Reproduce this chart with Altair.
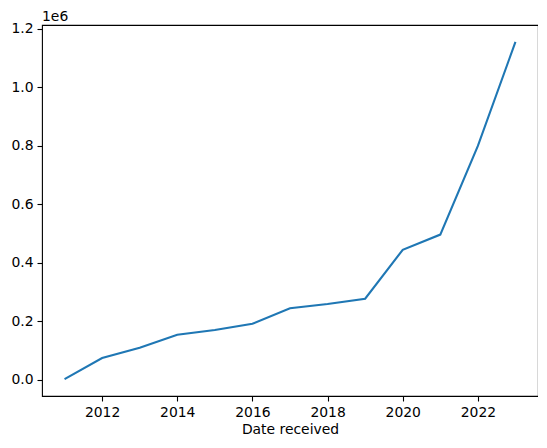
import altair as alt
import pandas as pd

years = [2011, 2012, 2013, 2014, 2015, 2016, 2017, 2018, 2019, 2020, 2021, 2022, 2023]
counts = [2000, 74000, 109000, 154000, 170000, 191000, 244000, 259000, 277000,
          444000, 496000, 799000, 1154500]
x_ticks = [2012, 2014, 2016, 2018, 2020, 2022]
y_ticks = [0, 200000, 400000, 600000, 800000, 1000000, 1200000]

df = pd.DataFrame({"year": years, "count": counts})

FONT = "DejaVu Sans"

line = alt.Chart(df).mark_line(color="#1f77b4", strokeWidth=2.1, clip=True).encode(
    x=alt.X("year:Q", scale=alt.Scale(domain=[2010.4, 2023.6], nice=False, zero=False),
            axis=alt.Axis(values=x_ticks, format="d", title="Date received", grid=False,
                          tickSize=5, tickWidth=1.1, tickColor="black", labelPadding=4,
                          domain=False, labelFont=FONT, labelFontSize=13.9, labelColor="black",
                          titleFont=FONT, titleFontSize=13.9, titleFontWeight="normal",
                          titleColor="black", titlePadding=4, labelFlush=False)),
    y=alt.Y("count:Q", scale=alt.Scale(domain=[-55600, 1212200], nice=False, zero=False),
            axis=alt.Axis(values=y_ticks, labelExpr="format(datum.value / 1e6, '.1f')",
                          title=None, grid=False, tickSize=5, tickWidth=1.1, tickColor="black",
                          labelPadding=4, domain=False, labelFont=FONT, labelFontSize=13.9,
                          labelColor="black", labelFlush=False)),
)

offset = alt.Chart(pd.DataFrame({"t": ["1e6"]})).mark_text(
    font=FONT, fontSize=13.9, color="black", align="left", baseline="alphabetic"
).encode(x=alt.value(0), y=alt.value(-4), text="t:N")

chart = alt.layer(line, offset).properties(
    width=496, height=371,
    autosize=alt.AutoSizeParams(type="none"),
    padding={"left": 34, "top": 17, "right": 0, "bottom": 42},
).configure_view(stroke="black", strokeWidth=1.1)

chart.save("out.html", embed_options={"renderer": "svg", "actions": False})
